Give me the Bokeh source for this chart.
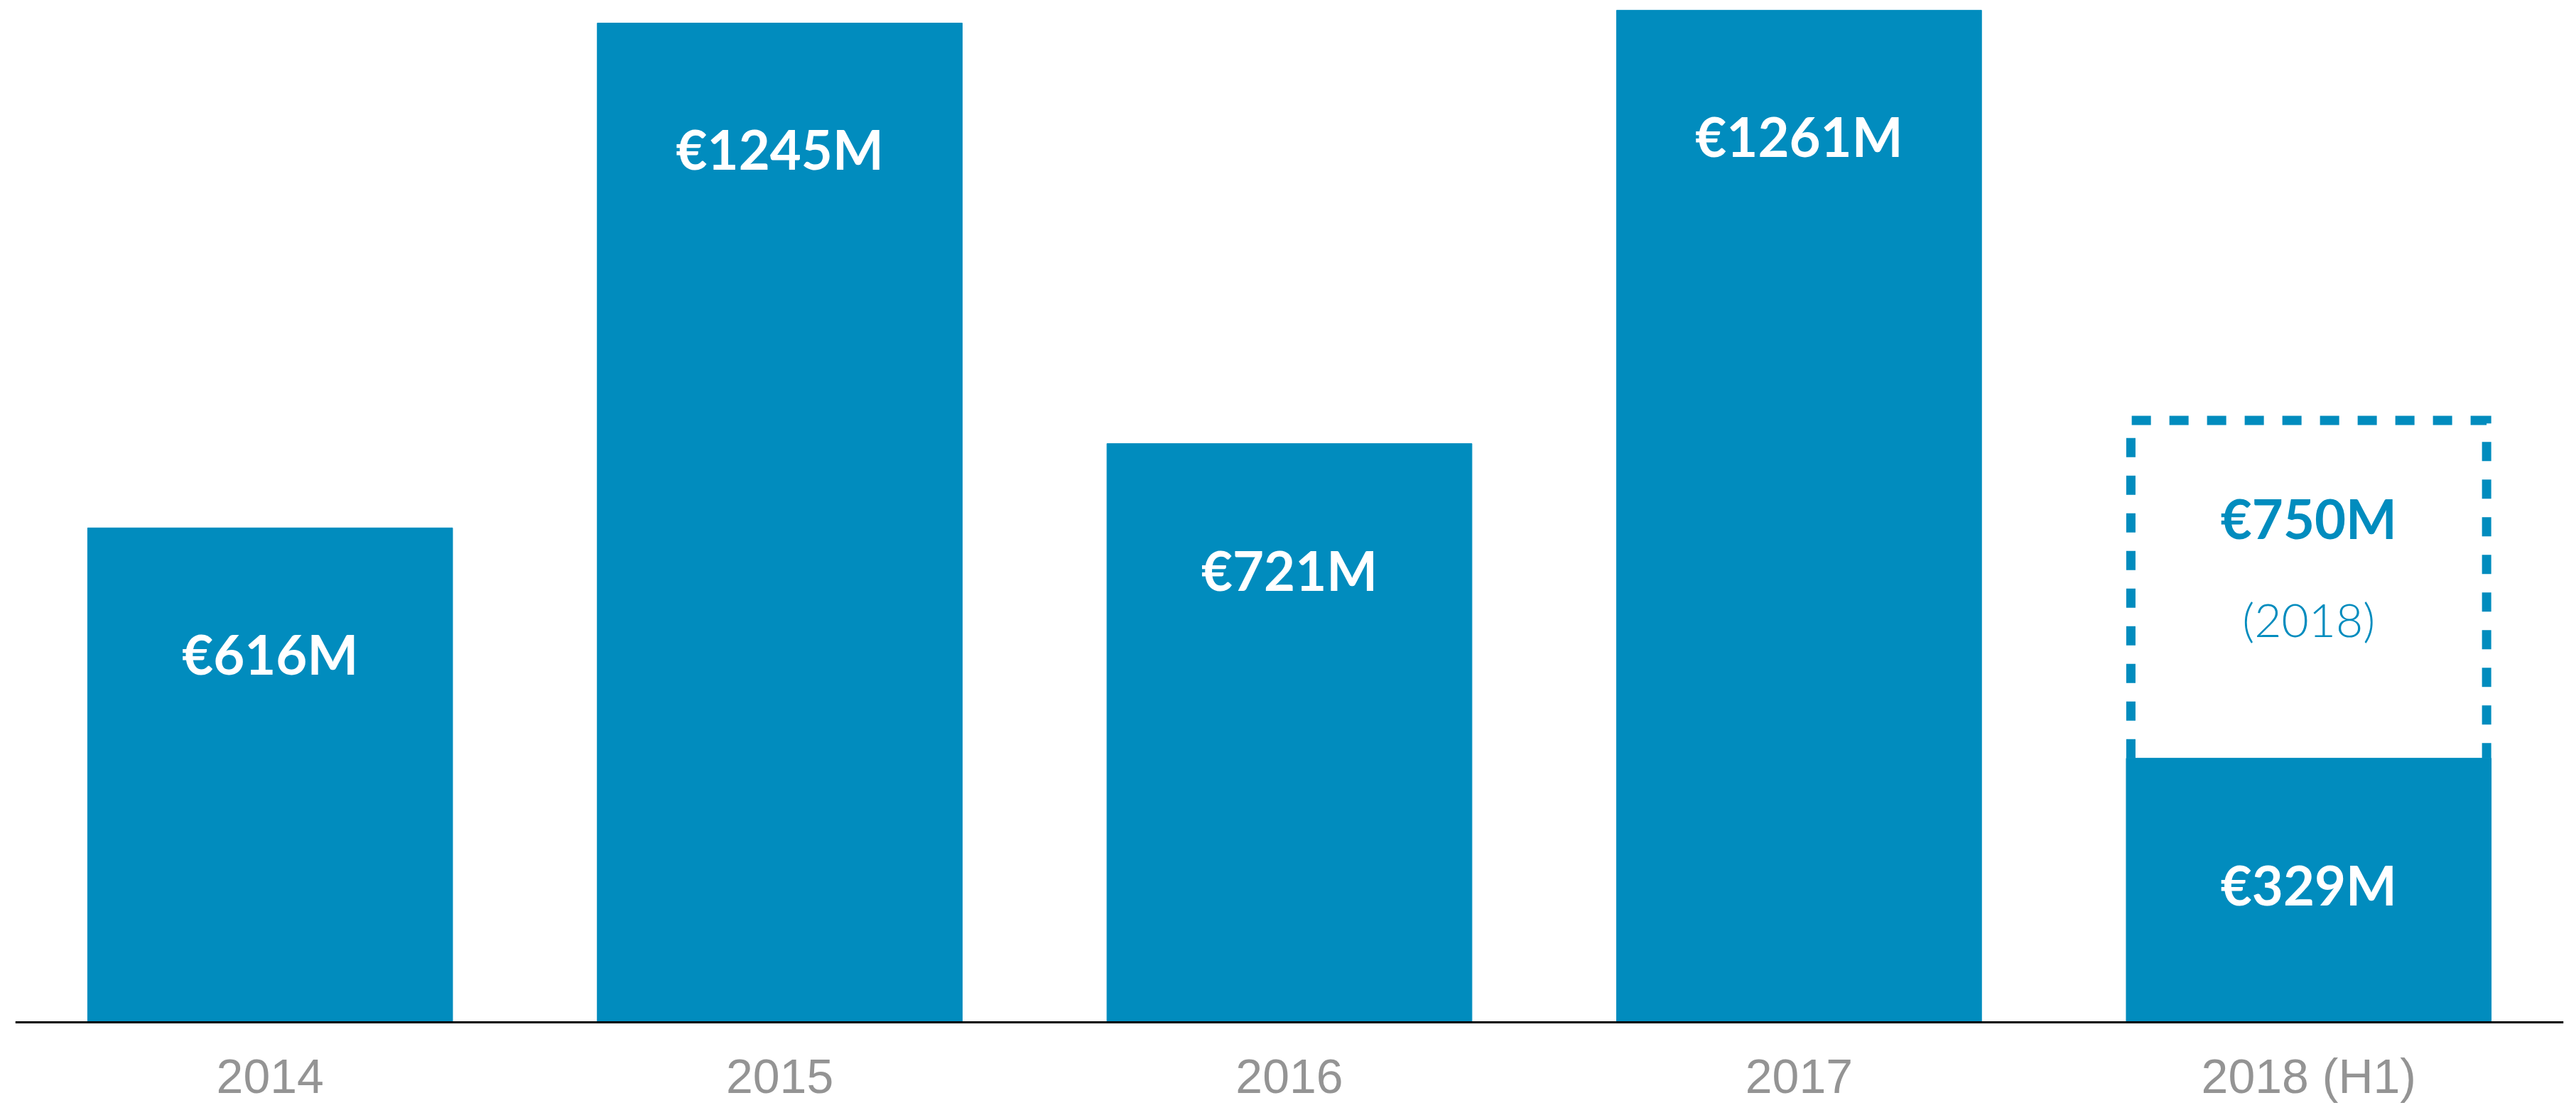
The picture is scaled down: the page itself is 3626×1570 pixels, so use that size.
from bokeh.plotting import figure
from bokeh.models import Range1d, FixedTicker, ColumnDataSource
from bokeh.core.properties import value
from bokeh.embed import file_html
from bokeh.resources import INLINE

# ---- data ----
years = ["2014", "2015", "2016", "2017", "2018 (H1)"]
investment = [616, 1245, 721, 1261, 329]
value_labels = ["€616M", "€1245M", "€721M", "€1261M", "€329M"]
forecast_2018 = 750
forecast_label = "€750M"
forecast_note = "(2018)"

BLUE = "#018CBE"
GREY = "#949494"
BAR_W = 0.716
W, H = 3610, 1554

p = figure(width=W, height=H, output_backend="svg", toolbar_location=None,
           x_range=Range1d(-0.5, 4.5), y_range=Range1d(-101.8, 1273.3),
           min_border_left=21, min_border_right=2, min_border_top=0,
           min_border_bottom=0)
p.outline_line_color = None
p.background_fill_color = "white"
p.border_fill_color = "white"
p.xgrid.visible = False
p.ygrid.visible = False
p.yaxis.visible = False

xs = list(range(len(years)))
src = ColumnDataSource(dict(x=xs, top=investment, lab=value_labels,
                            ly=[v - 157 for v in investment]))
p.vbar(x="x", top="top", bottom=0, width=BAR_W, color=BLUE, source=src)

# dashed forecast box around the 2018 bar
i = 4
inset = 0.009
l = i - BAR_W / 2 + inset
r = i + BAR_W / 2 - inset
p.line(x=[l, l, r, r], y=[investment[i], forecast_2018, forecast_2018, investment[i]],
       line_width=13, line_dash="27 26", line_color=BLUE, line_join="miter")

p.text(x="x", y="ly", text="lab", source=src, text_align="center",
       text_baseline="middle", text_color="white", text_font=value("Lato"),
       text_font_style="bold", text_font_size="76px")
p.text(x=[i], y=[forecast_2018 - 122], text=[forecast_label], text_align="center",
       text_baseline="middle", text_color=BLUE, text_font=value("Lato"),
       text_font_style="bold", text_font_size="76px")
p.text(x=[i], y=[forecast_2018 - 247], text=[forecast_note], text_align="center",
       text_baseline="middle", text_color=BLUE, text_font=value("Lato Light, Lato"),
       text_font_size="66px")

ax = p.xaxis[0]
ax.fixed_location = 0
ax.ticker = FixedTicker(ticks=xs)
ax.major_label_overrides = {x: y for x, y in zip(xs, years)}
ax.major_tick_line_color = None
ax.minor_tick_line_color = None
ax.major_tick_out = 0
ax.major_tick_in = 0
ax.axis_line_color = "black"
ax.axis_line_width = 3
ax.major_label_standoff = 38
ax.major_label_text_font = "Liberation Sans"
ax.major_label_text_font_size = "68px"
ax.major_label_text_color = GREY

open("out.html", "w").write(file_html(p, INLINE))
